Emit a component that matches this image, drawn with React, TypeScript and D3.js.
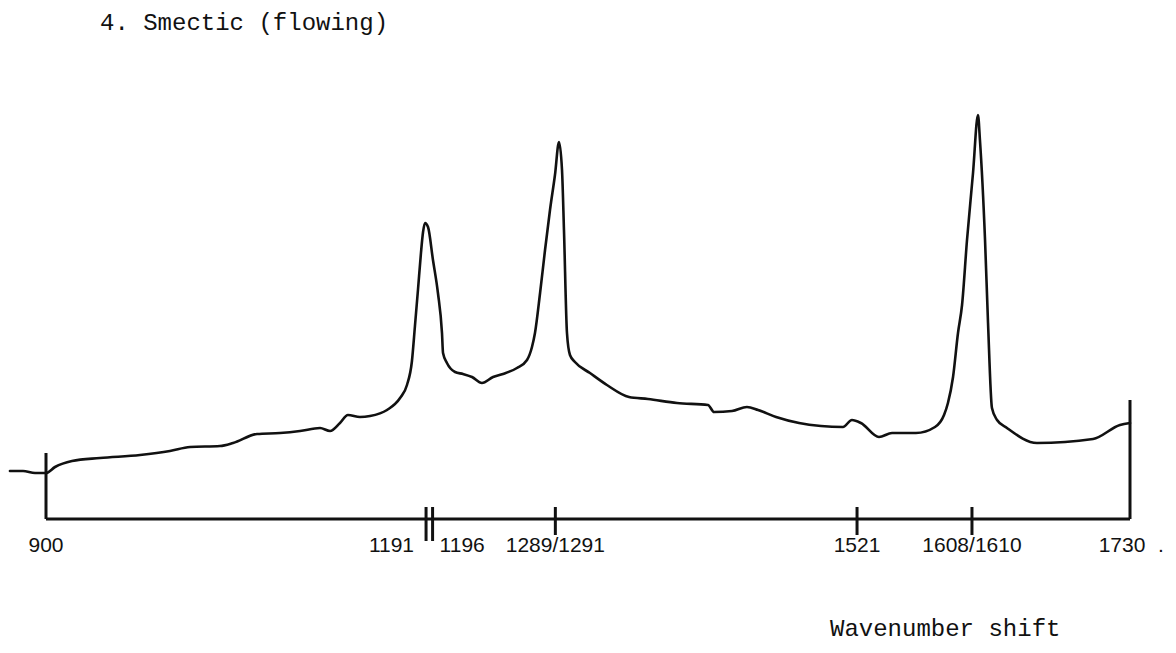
import React from "react";
import * as d3 from "d3";

// Raman spectrum, smectic (flowing) phase — wavenumber shift (cm-1) vs intensity (arbitrary units)
const wavenumber = [
  872.4, 882.4, 891.6, 900, 906.9, 919.9, 941.3, 972.0, 994.9, 1010.3, 1033.2, 1043.2, 1061.6,
  1079.2, 1094.5, 1109.8, 1117.5, 1125.1, 1131.2, 1140.4, 1148.1, 1161.1, 1171.1, 1176.4, 1180.2,
  1182.5, 1184.8, 1187.1, 1188.7, 1190.2, 1192.5, 1196.3, 1200.1, 1203.2, 1204.0, 1207.0, 1213.2,
  1219.3, 1226.2, 1233.8, 1242.3, 1249.9, 1260.6, 1268.3, 1272.1, 1274.4, 1278.3, 1282.1, 1285.9,
  1289.7, 1292.8, 1295.1, 1296.6, 1298.9, 1301.2, 1305.0, 1316.5, 1329.5, 1346.4, 1360.9, 1383.1,
  1406.9, 1411.5, 1425.3, 1436.7, 1445.2, 1459.0, 1476.6, 1493.4, 1510.2, 1517.1, 1524.0, 1537.8,
  1547.8, 1566.1, 1580.7, 1587.6, 1590.6, 1594.5, 1598.3, 1601.4, 1605.2, 1609.8, 1613.6, 1615.1,
  1619.0, 1621.3, 1624.3, 1628.2, 1635.8, 1658.8, 1701.7, 1722.3, 1730,
];
const intensity = [
  48, 48, 46, 46, 52, 58, 61, 64, 68, 72, 73, 76, 85,
  86, 88, 91, 88, 96, 104, 102, 103, 109, 121, 134, 158,
  193, 229, 266, 287, 296, 292, 259, 226, 186, 166, 156, 147,
  145, 142, 136, 142, 145, 151, 159, 172, 186, 226, 269, 309,
  344, 377, 349, 289, 186, 164, 157, 146, 134, 122, 120, 116,
  114, 107, 108, 112, 109, 102, 96, 93, 92, 99, 96, 82,
  86, 86, 92, 104, 116, 142, 186, 214, 279, 346, 404, 379,
  279, 196, 111, 99, 91, 76, 80, 94, 96,
];

// axis ticks (marked positions) and their hand-written labels
const tickValues = [1191, 1196, 1290, 1521, 1609];
const labelValues = [900, 1191, 1196, 1290, 1521, 1609, 1730];
const labelTexts = ["900", "1191", "1196", "1289/1291", "1521", "1608/1610", "1730"];
const labelAnchors = ["middle", "end", "start", "middle", "middle", "middle", "middle"];

const title = "4. Smectic (flowing)";
const xTitle = "Wavenumber shift";

export default function App() {
  const W = 1176;
  const H = 653;
  const x = d3.scaleLinear().domain([900, 1730]).range([46, 1130]);
  const y = d3.scaleLinear().domain([0, 400]).range([519, 119]);

  const pts = wavenumber.map((w, i) => [w, intensity[i]] as [number, number]);
  const path = d3
    .line<[number, number]>()
    .x((d) => x(d[0]))
    .y((d) => y(d[1]))
    .curve(d3.curveMonotoneX)(pts) as string;

  const base = y(0);
  const leftTop = y(66);
  const rightTop = y(119);
  const mono = "'Liberation Mono', 'Courier New', monospace";
  const hand = "'Liberation Sans Narrow', 'Liberation Sans', sans-serif";
  const ink = "#111";

  const labelDx = (a: string, v: number) => (a === "end" ? -12 : a === "start" ? 7 : v === 1730 ? -8 : 0);

  return (
    <svg
      width={W}
      height={H}
      viewBox={`0 0 ${W} ${H}`}
      style={{ position: "absolute", left: 0, top: 0, background: "#fff" }}
    >
      <rect width={W} height={H} fill="#fff" />
      <text x={100} y={30} fontFamily={mono} fontSize={24} fill={ink}>
        {title}
      </text>

      {/* frame: baseline and end verticals */}
      <line x1={x(900)} x2={x(1730)} y1={base} y2={base} stroke={ink} strokeWidth={3} />
      <line x1={x(900)} x2={x(900)} y1={leftTop} y2={base} stroke={ink} strokeWidth={3} />
      <line x1={x(1730)} x2={x(1730)} y1={rightTop} y2={base} stroke={ink} strokeWidth={3} />

      {tickValues.map((v, i) => (
        <line
          key={i}
          x1={x(v)}
          x2={x(v)}
          y1={base - 12}
          y2={base + (v < 1200 ? 22 : 16)}
          stroke={ink}
          strokeWidth={3}
        />
      ))}

      {labelValues.map((v, i) => (
        <text
          key={i}
          x={x(v) + labelDx(labelAnchors[i], v)}
          y={base + 33}
          textAnchor={labelAnchors[i] as any}
          fontFamily={hand}
          fontSize={21}
          fill={ink}
        >
          {labelTexts[i]}
        </text>
      ))}
      <text x={x(1730) + 28} y={base + 33} fontFamily={hand} fontSize={21} fill={ink}>
        .
      </text>

      <path d={path} fill="none" stroke={ink} strokeWidth={2.6} strokeLinejoin="round" strokeLinecap="round" />

      <text x={830} y={636} fontFamily={mono} fontSize={24} fill={ink}>
        {xTitle}
      </text>
    </svg>
  );
}
